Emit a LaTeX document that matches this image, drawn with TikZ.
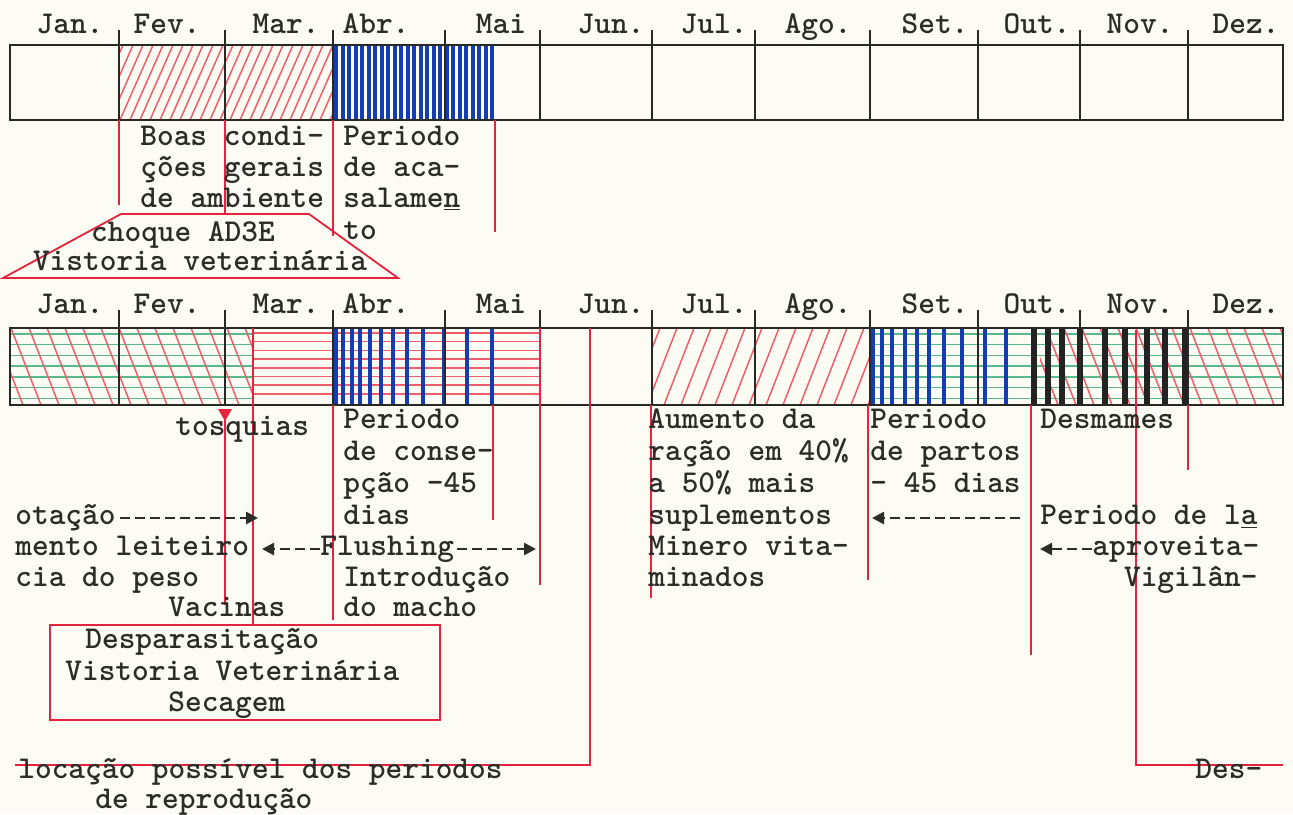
\documentclass[tikz,border=0pt]{standalone}
\usetikzlibrary{arrows.meta}
\definecolor{paper}{RGB}{252,251,244}
\definecolor{ink}{RGB}{45,45,40}
\definecolor{rline}{RGB}{228,35,60}
\definecolor{rhatch}{RGB}{240,95,105}
\definecolor{bhatch}{RGB}{20,60,180}
\definecolor{ghatch}{RGB}{90,185,140}
\definecolor{khatch}{RGB}{35,35,35}
\newcommand\twf{\fontsize{15.9}{19}\selectfont\ttfamily\bfseries}
\begin{document}
\begin{tikzpicture}[x=0.5pt,y=-0.5pt,
  txt/.style={font=\twf, text=ink, inner sep=0pt, anchor=base west},
  mon/.style={font=\twf, text=ink, inner sep=0pt, anchor=base},
  frame/.style={draw=ink!90!black, line width=0.8pt},
  divl/.style={draw=ink!90!black, line width=0.6pt},
  redl/.style={draw=rline, line width=0.9pt},
  rh/.style={draw=rhatch, line width=0.75pt},
  gh/.style={draw=ghatch, line width=0.7pt},
  bh/.style={draw=bhatch, line width=2pt},
  kh/.style={draw=khatch, line width=2.8pt},
  dasharr/.style={draw=ink, line width=1.3pt, dash pattern=on 5pt off 2.5pt, -{Triangle[length=6pt,width=6pt]}}]
\fill[paper] (0,0) rectangle (1293,814);
\useasboundingbox (0,0) rectangle (1293,814);

% ================= TOP BAR =================
\begin{scope}
\clip (119,45) rectangle (333,120);
\foreach \i in {0,...,28} \draw[rh] (80+\i*10,120) -- ++(33,-75);
\end{scope}
\foreach \x in {336,342.5,...,493} \draw[bh] (\x,45) -- (\x,120);

\draw[frame] (10,45) rectangle (1283,120);
\foreach \x in {119,225,333,445,540,652,755,870,978,1080,1188}
  \draw[divl] (\x,30) -- (\x,120);
\foreach \x/\m in {70/Jan.,167/Fev.,286/Mar.,376/Abr.,501/Mai,611/Jun.,714/Jul.,818/Ago.,935/Set.,1037/Out.,1140/Nov.,1246/Dez.}
  \node[mon] at (\x,33) {\m};

% red connectors top
\draw[redl] (119,120) -- (119,205);
\draw[redl] (225,120) -- (225,214);
\draw[redl] (333,120) -- (333,236);
\draw[redl] (495,120) -- (495,232);
\draw[redl] (121,214) -- (309,214) -- (398,278) -- (3,278) -- cycle;

\node[txt] (boas) at (140,145) {Boas condi-};
\node[txt] (coes) at (140,176) {ções gerais};
\node[txt] (amb)  at (140,207) {de ambiente};
\node[txt] (per1) at (343,145) {Periodo};
\node[txt] (aca)  at (343,176) {de aca-};
\node[txt] (sal)  at (343,207) {salame\underline{n}};
\node[txt] (to)   at (343,239) {to};
\node[mon] (choq) at (183,241) {choque AD3E};
\node[mon] (vist) at (200,270) {Vistoria veterinária};

% ================= SECOND BAR =================
\foreach \y in {334,344.7,...,401} {
  \draw[gh] (10,\y) -- (253,\y);
  \draw[gh] (870,\y) -- (1283,\y);
}
\begin{scope}
\clip (10,328) rectangle (253,405);
\foreach \i in {0,...,16} \draw[rh] (-25+\i*18,328) -- ++(30,77);
\end{scope}
\foreach \y in {333,341.7,...,402} \draw[rh] (253,\y) -- (540,\y);
\foreach \x in {336,343,352,360,370,381,393,407,423,444,467,492} \draw[bh, line width=2.3pt] (\x,328) -- (\x,405);
\begin{scope}
\clip (652,328) rectangle (870,405);
\foreach \i in {0,...,15} \draw[rh] (630+\i*17,405) -- ++(30,-77);
\end{scope}
\foreach \x in {873,882,892,905,917,929,944,962,985,1006} \draw[bh, line width=2.3pt] (\x,328) -- (\x,405);
\begin{scope}
\clip (1040,328) rectangle (1283,405);
\foreach \i in {0,...,16} \draw[rh] (1010+\i*18,328) -- ++(30,77);
\end{scope}
\foreach \x in {1034,1048,1062,1080,1105,1125,1147,1165,1185} \draw[kh] (\x,329) -- (\x,404);

\draw[frame] (10,328) rectangle (1283,405);
\foreach \x in {119,225,333,445,540,652,755,870,978,1080,1188}
  \draw[divl] (\x,310) -- (\x,405);
\foreach \x/\m in {70/Jan.,167/Fev.,286/Mar.,376/Abr.,501/Mai,611/Jun.,714/Jul.,818/Ago.,935/Set.,1037/Out.,1140/Nov.,1246/Dez.}
  \node[mon] at (\x,313) {\m};

% red connectors second
\fill[rline] (218,409) -- (232,409) -- (225,421) -- cycle;
\draw[redl] (225,415) -- (225,605);
\draw[redl] (253,328) -- (253,625);
\draw[redl] (333,405) -- (333,620);
\draw[redl] (493,405) -- (493,520);
\draw[redl] (540,328) -- (540,585);
\draw[redl] (590,328) -- (590,765) -- (15,765);
\draw[redl] (651,405) -- (651,598);
\draw[redl] (868,405) -- (868,580);
\draw[redl] (1031,405) -- (1031,655);
\draw[redl] (1136,330) -- (1136,765) -- (1283,765);
\draw[redl] (1188,405) -- (1188,470);
\draw[redl] (50,625) rectangle (440,720);

% texts second
\node[txt] (tosq) at (175,435) {tosquias};
\node[txt] (per2) at (343,428) {Periodo};
\node[txt] (cons) at (343,460) {de conse-};
\node[txt] (pcao) at (343,492) {pção -45};
\node[txt] (dias) at (343,524) {dias};
\node[txt] (rot)  at (15,524) {otação};
\coordinate (rotend) at (258,518);
\draw[dasharr] ([xshift=2pt]rot.east |- rotend) -- (rotend);
\node[txt] (leit) at (15,555) {mento leiteiro};
\node[txt] (flush) at (320,555) {Flushing};
\coordinate (fl1) at (262,549);
\coordinate (fl2) at (536,549);
\draw[dasharr] (flush.west |- fl1) -- (fl1);
\draw[dasharr] ([xshift=1.5pt]flush.east |- fl2) -- (fl2);
\node[txt] (peso) at (15,586) {cia do peso};
\node[txt] (intr) at (343,586) {Introdução};
\node[txt] (mach) at (343,616) {do macho};
\node[txt] (vac)  at (168,616) {Vacinas};
\node[txt] (desp) at (85,648) {Desparasitação};
\node[txt] (vvet) at (65,680) {Vistoria Veterinária};
\node[txt] (sec)  at (168,711) {Secagem};
\node[txt] (loc)  at (18,778) {locação possível dos periodos};
\node[txt] (repr) at (95,808) {de reprodução};

\node[txt] (aum)  at (648,428) {Aumento da};
\node[txt] (rac)  at (648,460) {ração em 40\%};
\node[txt] (a50)  at (648,492) {a 50\% mais};
\node[txt] (sup)  at (648,524) {suplementos};
\node[txt] (min)  at (648,555) {Minero vita-};
\node[txt] (mind) at (648,586) {minados};
\node[txt] (per3) at (870,428) {Periodo};
\node[txt] (part) at (870,460) {de partos};
\node[txt] (d45)  at (870,492) {- 45 dias};
\coordinate (parr) at (872,518);
\draw[dasharr] (1020,518) -- (parr);
\node[txt] (desm) at (1040,428) {Desmames};
\node[txt] (perl) at (1040,524) {Periodo de l\underline{a}};
\node[txt] (apr)  at (1092,555) {aproveita-};
\coordinate (aarr) at (1040,549);
\draw[dasharr] (apr.west |- aarr) -- (aarr);
\node[font=\twf, text=ink, inner sep=0pt, anchor=base east] (vig) at (1258,586) {Vigilân-};
\node[txt] (des)  at (1195,778) {Des-};
\end{tikzpicture}
\end{document}
